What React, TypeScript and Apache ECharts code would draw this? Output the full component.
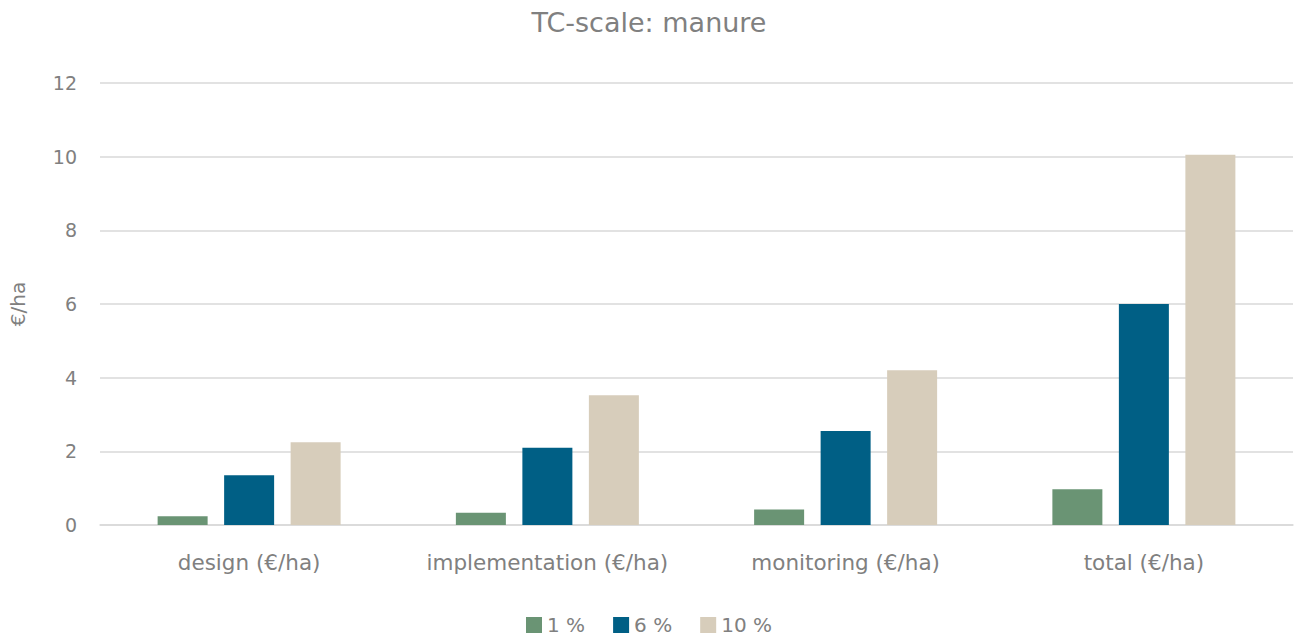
import React, { useEffect, useRef } from "react";
import * as echarts from "echarts";

const categories = ["design (€/ha)", "implementation (€/ha)", "monitoring (€/ha)", "total (€/ha)"];
const seriesNames = ["1 %", "6 %", "10 %"];
const values1 = [0.24, 0.33, 0.42, 0.97];
const values6 = [1.35, 2.1, 2.55, 6.0];
const values10 = [2.25, 3.52, 4.2, 10.05];
const colors = ["#6a9474", "#005f85", "#d7cdbb"];

const FONT = "'DejaVu Sans', sans-serif";
const GREY = "#808080";

export default function App() {
  const ref = useRef<HTMLDivElement>(null);

  useEffect(() => {
    if (!ref.current) return;
    const chart = echarts.init(ref.current, undefined, { renderer: "svg" });
    const data = [values1, values6, values10];
    chart.setOption({
      animation: false,
      backgroundColor: "#ffffff",
      textStyle: { fontFamily: FONT, color: GREY },
      title: {
        text: "TC-scale: manure",
        left: "center",
        top: 4,
        textStyle: { fontFamily: FONT, fontSize: 27, fontWeight: "normal", color: GREY },
      },
      legend: {
        bottom: 4,
        left: "center",
        itemWidth: 16,
        itemHeight: 16,
        itemGap: 28,
        icon: "rect",
        textStyle: { fontFamily: FONT, fontSize: 20, color: GREY },
        data: seriesNames,
      },
      grid: { left: 97, right: 5, top: 83, bottom: 119, containLabel: false },
      xAxis: {
        type: "category",
        data: categories,
        axisLine: { lineStyle: { color: "#d9d9d9", width: 1.5 } },
        axisTick: { show: false },
        axisLabel: {
          interval: 0,
          hideOverlap: false,
          fontFamily: FONT,
          fontSize: 21.5,
          color: GREY,
          margin: 26,
        },
      },
      yAxis: {
        type: "value",
        min: 0,
        max: 12,
        interval: 2,
        name: "€/ha",
        nameLocation: "middle",
        nameGap: 72,
        nameTextStyle: { fontFamily: FONT, fontSize: 20, color: GREY },
        axisLine: { show: false },
        axisTick: { show: false },
        axisLabel: { fontFamily: FONT, fontSize: 19, color: GREY, margin: 23 },
        splitLine: { lineStyle: { color: "#d9d9d9", width: 1.5 } },
      },
      series: seriesNames.map((name, i) => ({
        name,
        type: "bar",
        data: data[i],
        barWidth: 50,
        barGap: "33%",
        itemStyle: { color: colors[i] },
      })),
    });
    return () => chart.dispose();
  }, []);

  return (
    <div
      ref={ref}
      style={{ position: "fixed", left: 0, top: 0, width: 1298, height: 644 }}
    />
  );
}
